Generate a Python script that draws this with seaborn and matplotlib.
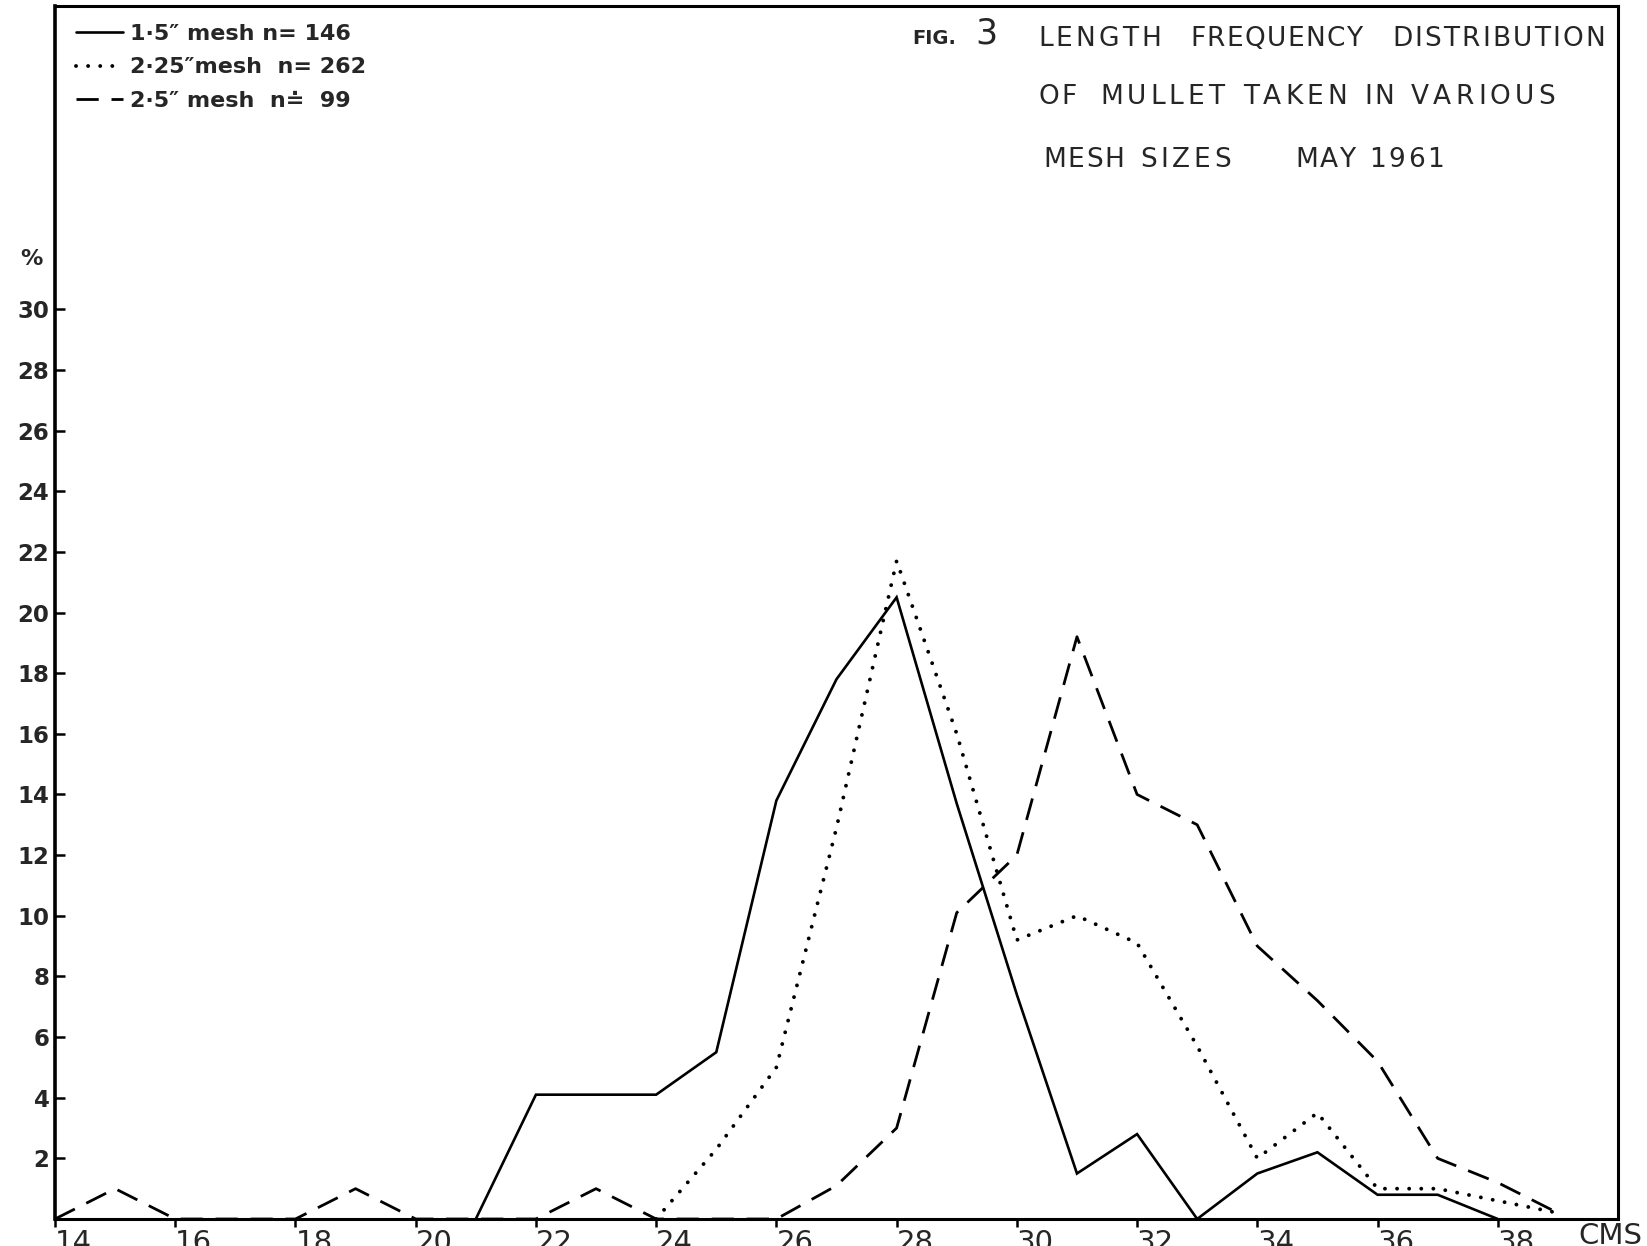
import matplotlib
matplotlib.use("Agg")
import matplotlib.pyplot as plt
import seaborn as sns
import pandas as pd

# Length classes (cm) and percentage frequencies for each mesh size
len_15 = [21, 22, 23, 24, 25, 26, 27, 28, 29, 30, 31, 32, 33, 34, 35, 36, 37, 38]
pct_15 = [0, 4.1, 4.1, 4.1, 5.5, 13.8, 17.8, 20.5, 13.7, 7.4, 1.5, 2.8, 0, 1.5, 2.2, 0.8, 0.8, 0]

len_225 = [24, 25, 26, 27, 28, 29, 30, 31, 32, 33, 34, 35, 36, 37, 38, 39]
pct_225 = [0, 2.3, 5.0, 12.9, 21.7, 16.0, 9.2, 10.0, 9.1, 5.7, 2.0, 3.5, 1.0, 1.0, 0.6, 0.2]

len_25 = [14, 15, 16, 17, 18, 19, 20, 21, 22, 23, 24, 25, 26,
          27, 28, 29, 30, 31, 32, 33, 34, 35, 36, 37, 38, 39]
pct_25 = [0, 1.0, 0, 0, 0, 1.0, 0, 0, 0, 1.0, 0, 0, 0,
          1.1, 3.0, 10.1, 12.0, 19.2, 14.0, 13.0, 9.0, 7.2, 5.2, 2.0, 1.2, 0.2]

labels = ["1·5″ mesh n= 146", "2·25″mesh  n= 262", "2·5″ mesh  n≐  99"]
x_ticks = list(range(14, 39, 2))
y_ticks = list(range(2, 31, 2))

sns.set_theme(style="white")
plt.rcParams["font.family"] = ["DejaVu Sans"]

W, H = 1647, 1246
fig = plt.figure(figsize=(W / 100, H / 100), dpi=100)
fig.patch.set_facecolor("white")
ax = fig.add_axes([55 / W, 1 - 1219 / H, (1618 - 55) / W, (1219 - 6) / H])
ax.set_facecolor("white")

df15 = pd.DataFrame({"length": len_15, "pct": pct_15})
df225 = pd.DataFrame({"length": len_225, "pct": pct_225})
df25 = pd.DataFrame({"length": len_25, "pct": pct_25})

sns.lineplot(data=df15, x="length", y="pct", ax=ax, color="black", lw=1.9,
             estimator=None, label=labels[0], solid_joinstyle="miter")
sns.lineplot(data=df225, x="length", y="pct", ax=ax, color="black", lw=2.8,
             estimator=None, label=labels[1], linestyle=(0, (0.01, 3.1)),
             dash_capstyle="round")
sns.lineplot(data=df25, x="length", y="pct", ax=ax, color="black", lw=2.0,
             estimator=None, label=labels[2], linestyle=(0, (8.0, 4.6)),
             dash_capstyle="butt")

ax.set_xlim(14, 40)
ax.set_ylim(0, 40)
ax.set_xlabel("")
ax.set_ylabel("")

for s in ax.spines.values():
    s.set_visible(True)
    s.set_color("black")
    s.set_linewidth(2.2)
ax.spines["left"].set_linewidth(2.6)

ax.set_yticks(y_ticks)
ax.set_yticklabels([str(v) for v in y_ticks], fontsize=16.5, fontweight="bold")
ax.tick_params(axis="y", direction="in", length=7, width=1.8, pad=4,
               left=True, color="black")
ax.set_xticks(x_ticks)
ax.set_xticklabels([str(v) for v in x_ticks], fontsize=21, ha="left")
ax.tick_params(axis="x", direction="out", length=6, width=1.8, pad=1.5,
               bottom=True, color="black")

leg = ax.legend(loc="upper left", bbox_to_anchor=(76 / W, 1 - 24 / H),
                bbox_transform=fig.transFigure, frameon=False,
                prop={"size": 16, "weight": "bold"}, handlelength=2.1,
                handletextpad=0.35, labelspacing=0.6, borderpad=0,
                borderaxespad=0)


def fx(x):
    return x / W


def fy(y):
    return 1 - y / H


renderer = fig.canvas.get_renderer()


def spaced_word(word, x0, x1, yc, size, min_gap=1.0):
    """Lay out the letters of one word evenly between pixel columns x0 and x1."""
    parts = [fig.text(0, fy(yc), ch, fontsize=size, ha="left", va="center")
             for ch in word]
    widths = [t.get_window_extent(renderer).width for t in parts]
    gap = (x1 - x0 - sum(widths)) / max(len(word) - 1, 1)
    gap = max(gap, min_gap)
    x = x0
    for t, w in zip(parts, widths):
        t.set_x(fx(x))
        x += w + gap


# Heading, lettered word by word
heading = [
    (39, [("LENGTH", 1038, 1161), ("FREQUENCY", 1190, 1362), ("DISTRIBUTION", 1392, 1605)]),
    (97, [("OF", 1038, 1077), ("MULLET", 1100, 1224), ("TAKEN", 1243, 1347),
          ("IN", 1364, 1394), ("VARIOUS", 1411, 1555)]),
    (160, [("MESH", 1043, 1124), ("SIZES", 1140, 1231), ("MAY", 1295, 1355),
           ("1961", 1369, 1444)]),
]
for yc, words in heading:
    for word, x0, x1 in words:
        spaced_word(word, x0, x1, yc, 19)

fig.text(fx(912), fy(38), "FIG.", fontsize=14, fontweight="bold", ha="left", va="center")
fig.text(fx(975), fy(33), "3", fontsize=25, ha="left", va="center")

fig.text(fx(31), fy(259), "%", fontsize=16, fontweight="bold", ha="center", va="center")
fig.text(fx(1578), fy(1222), "CMS", fontsize=21, ha="left", va="top")

fig.savefig("out.png", dpi=100, facecolor="white")
